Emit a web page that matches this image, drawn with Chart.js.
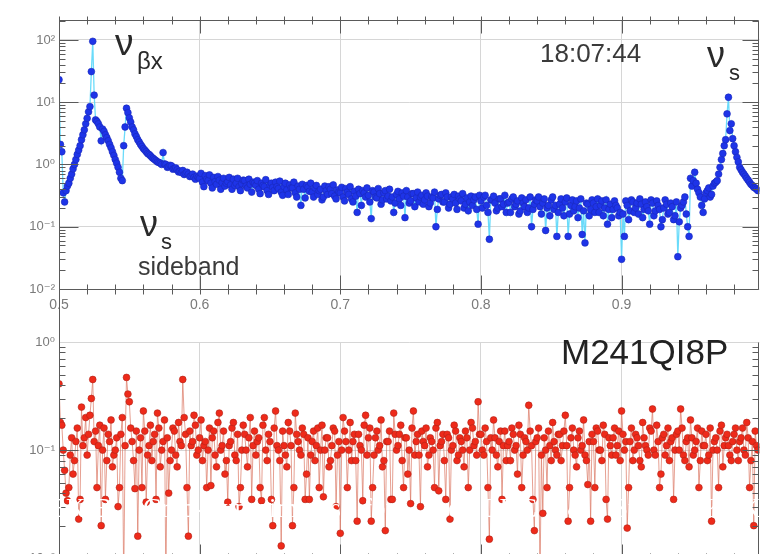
<!DOCTYPE html>
<html>
<head>
<meta charset="utf-8">
<script src="https://cdn.jsdelivr.net/npm/chart.js@4.4.1/dist/chart.umd.min.js"></script>
<style>
  html, body { margin: 0; padding: 0; background: #fff; overflow: hidden; }
  #wrap { position: relative; width: 764px; height: 554px; overflow: hidden; }
  canvas { position: absolute; left: 0; }
  #topChart { top: 0; }
  #botChart { top: 289px; }
  .lbl { position: absolute; white-space: nowrap; line-height: 1; font-family: "Liberation Sans", Arial, sans-serif; color: #2a2a2a; z-index: 2; }
  .banner { position: absolute; white-space: nowrap; line-height: 1; font-family: "Liberation Serif", "Times New Roman", serif; font-size: 27px; color: #fff; z-index: 3; top: 495px; }
</style>
</head>
<body>
<div id="wrap">
  <canvas id="topChart" width="764" height="320"></canvas>
  <canvas id="botChart" width="764" height="281"></canvas>

  <div class="lbl" style="left:115px;top:24px;font-size:37px;">ν</div>
  <div class="lbl" style="left:137px;top:49px;font-size:24px;">βx</div>
  <div class="lbl" style="left:540px;top:40px;font-size:26px;color:#3a3a3a;">18:07:44</div>
  <div class="lbl" style="left:707px;top:37px;font-size:36px;">ν</div>
  <div class="lbl" style="left:729px;top:62px;font-size:22px;">s</div>
  <div class="lbl" style="left:140px;top:206px;font-size:36px;">ν</div>
  <div class="lbl" style="left:161px;top:231px;font-size:22px;">s</div>
  <div class="lbl" style="left:138px;top:254px;font-size:25px;color:#3a3a3a;">sideband</div>
  <div class="lbl" style="left:561px;top:334px;font-size:35px;color:#222;">M241QI8P</div>

  <div class="banner" style="left:30px;">KEK-B</div>
  <div class="banner" style="left:143px;">Crab-Experiments</div>
  <div class="banner" style="left:363px;">for</div>
  <div class="banner" style="left:427px;">the</div>
  <div class="banner" style="left:483px;">LHC</div>
  <div class="banner" style="left:567px;">&amp;</div>
  <div class="banner" style="left:613px;">Super</div>
  <div class="banner" style="left:705px;">KEK-B</div>
</div>
<script>
// tune axis: FFT bins of width 0.001 starting at 0.5
// values are kept as even bins (0.500, 0.502, ...) and odd bins (0.501, 0.503, ...)
const tuneStart = 0.5;
const binWidth = 0.001;

// horizontal spectrum (top panel)
const horizEven = [
  23, 1.6, 0.25, 0.45, 0.6, 0.85, 1.2, 1.7, 2.5, 3.6,
  5.5, 8.5, 95, 5.2, 4.5, 2.4, 3.4, 2.7, 2.1, 1.6,
  1.2, 0.9, 0.6, 2.0, 8.0, 5.6, 4.0, 3.1, 2.5, 2.1,
  1.8, 1.6, 1.45, 1.3, 1.2, 1.1, 1.05, 1.55, 1.0, 0.92,
  0.95, 0.86, 0.82, 0.78, 0.8, 0.72, 0.7, 0.66, 0.62, 0.65,
  0.6, 0.52, 0.66, 0.55, 0.5, 0.62, 0.48, 0.56, 0.51, 0.45,
  0.53, 0.47, 0.58, 0.5, 0.44, 0.49, 0.55, 0.42, 0.48, 0.52,
  0.46, 0.4, 0.5, 0.44, 0.38, 0.47, 0.43, 0.52, 0.41, 0.36,
  0.44, 0.39, 0.47, 0.42, 0.35, 0.45, 0.22, 0.4, 0.46, 0.37,
  0.36, 0.42, 0.33, 0.4, 0.3, 0.38, 0.44, 0.34, 0.31, 0.39,
  0.35, 0.3, 0.41, 0.33, 0.28, 0.37, 0.17, 0.34, 0.38, 0.3,
  0.32, 0.135, 0.36, 0.29, 0.34, 0.27, 0.38, 0.31, 0.26, 0.17,
  0.33, 0.28, 0.35, 0.14, 0.3, 0.26, 0.34, 0.29, 0.25, 0.32,
  0.27, 0.31, 0.24, 0.29, 0.1, 0.28, 0.33, 0.25, 0.3, 0.23,
  0.28, 0.24, 0.31, 0.26, 0.2, 0.29, 0.25, 0.22, 0.3, 0.11,
  0.26, 0.3, 0.22, 0.063, 0.27, 0.24, 0.2, 0.28, 0.23, 0.17,
  0.25, 0.28, 0.21, 0.26, 0.18, 0.24, 0.27, 0.2, 0.1, 0.23,
  0.26, 0.21, 0.24, 0.087, 0.22, 0.27, 0.19, 0.07, 0.23, 0.2,
  0.25, 0.07, 0.22, 0.18, 0.26, 0.2, 0.075, 0.055, 0.23, 0.19,
  0.24, 0.21, 0.17, 0.26, 0.2, 0.11, 0.23, 0.19, 0.22, 0.15,
  0.03, 0.07, 0.22, 0.18, 0.25, 0.2, 0.16, 0.23, 0.19, 0.21,
  0.11, 0.24, 0.18, 0.22, 0.1, 0.2, 0.23, 0.17, 0.21, 0.15,
  0.033, 0.2, 0.25, 0.16, 0.07, 0.45, 0.75, 0.4, 0.3, 0.17,
  0.35, 0.42, 0.33, 0.5, 0.55, 0.9, 1.5, 2.5, 12, 4.5,
  2.0, 1.3, 0.9, 0.75, 0.65, 0.56, 0.48, 0.43, 0.4
];
const horizOdd = [
  2.1, 0.35, 0.38, 0.5, 0.7, 1.0, 1.45, 2.0, 3.0, 4.5,
  7, 31, 13, 4.9, 4.0, 3.7, 3.0, 2.4, 1.85, 1.4,
  1.05, 0.75, 0.55, 4.0, 6.8, 4.8, 3.6, 2.8, 2.3, 1.95,
  1.7, 1.5, 1.38, 1.25, 1.15, 1.08, 1.0, 1.02, 0.9, 0.97,
  0.84, 0.88, 0.76, 0.74, 0.69, 0.75, 0.64, 0.7, 0.58, 0.62,
  0.72, 0.44, 0.58, 0.68, 0.42, 0.53, 0.64, 0.4, 0.6, 0.5,
  0.62, 0.4, 0.46, 0.6, 0.38, 0.56, 0.45, 0.58, 0.36, 0.5,
  0.55, 0.34, 0.46, 0.57, 0.33, 0.5, 0.38, 0.44, 0.54, 0.32,
  0.5, 0.33, 0.42, 0.52, 0.3, 0.4, 0.48, 0.29, 0.43, 0.5,
  0.3, 0.46, 0.38, 0.27, 0.45, 0.33, 0.4, 0.47, 0.28, 0.36,
  0.43, 0.26, 0.36, 0.44, 0.25, 0.31, 0.4, 0.22, 0.35, 0.42,
  0.25, 0.38, 0.3, 0.41, 0.23, 0.35, 0.28, 0.4, 0.3, 0.24,
  0.37, 0.22, 0.31, 0.38, 0.24, 0.34, 0.21, 0.36, 0.3, 0.23,
  0.35, 0.21, 0.3, 0.36, 0.19, 0.32, 0.25, 0.35, 0.2, 0.3,
  0.33, 0.19, 0.28, 0.34, 0.23, 0.18, 0.31, 0.27, 0.19, 0.32,
  0.2, 0.32, 0.17, 0.27, 0.31, 0.18, 0.28, 0.21, 0.32, 0.24,
  0.17, 0.3, 0.23, 0.16, 0.29, 0.21, 0.17, 0.3, 0.19, 0.27,
  0.3, 0.16, 0.28, 0.2, 0.15, 0.3, 0.22, 0.17, 0.28, 0.15,
  0.29, 0.16, 0.27, 0.21, 0.14, 0.28, 0.18, 0.24, 0.15, 0.27,
  0.17, 0.28, 0.22, 0.15, 0.27, 0.19, 0.14, 0.26, 0.2, 0.17,
  0.16, 0.26, 0.13, 0.27, 0.17, 0.24, 0.28, 0.14, 0.25, 0.18,
  0.27, 0.15, 0.26, 0.19, 0.13, 0.27, 0.16, 0.24, 0.13, 0.25,
  0.12, 0.22, 0.3, 0.1, 0.6, 0.55, 0.5, 0.35, 0.22, 0.28,
  0.38, 0.3, 0.45, 0.52, 0.7, 1.2, 2.0, 6.5, 3.5, 2.6,
  1.6, 1.1, 0.82, 0.7, 0.6, 0.52, 0.46, 0.42, 0.38
];

// M241QI8P spectrum (bottom panel)
const vertEven = [
  0.41, 0.17, 0.065, 0.034, 0.09, 0.06, 0.12, 0.023, 0.25, 0.13,
  0.09, 0.21, 0.45, 0.15, 0.11, 0.02, 0.16, 0.08, 0.12, 0.07,
  0.1, 0.03, 0.14, 0.006, 0.47, 0.28, 0.12, 0.044, 0.016, 0.13,
  0.23, 0.033, 0.11, 0.08, 0.14, 0.22, 0.07, 0.12, 0.006, 0.04,
  0.1, 0.15, 0.07, 0.12, 0.45, 0.14, 0.016, 0.11, 0.21, 0.09,
  0.13, 0.08, 0.12, 0.1, 0.047, 0.15, 0.07, 0.22, 0.11, 0.06,
  0.033, 0.12, 0.18, 0.08, 0.03, 0.1, 0.14, 0.07, 0.2, 0.11,
  0.09, 0.13, 0.034, 0.2, 0.08, 0.12, 0.02, 0.23, 0.1, 0.013,
  0.11, 0.07, 0.15, 0.02, 0.22, 0.12, 0.09, 0.14, 0.06, 0.035,
  0.12, 0.08, 0.16, 0.1, 0.037, 0.13, 0.07, 0.11, 0.15, 0.09,
  0.017, 0.2, 0.12, 0.1, 0.08, 0.14, 0.022, 0.11, 0.034, 0.21,
  0.13, 0.022, 0.09, 0.15, 0.11, 0.07, 0.018, 0.12, 0.035, 0.22,
  0.1, 0.14, 0.08, 0.13, 0.06, 0.032, 0.23, 0.12, 0.09, 0.15,
  0.11, 0.07, 0.13, 0.1, 0.16, 0.042, 0.12, 0.08, 0.14, 0.023,
  0.11, 0.15, 0.09, 0.12, 0.07, 0.13, 0.1, 0.16, 0.12, 0.28,
  0.14, 0.09, 0.12, 0.015, 0.1, 0.13, 0.07, 0.15, 0.11, 0.08,
  0.12, 0.16, 0.1, 0.06, 0.14, 0.09, 0.12, 0.26, 0.11, 0.018,
  0.13, 0.006, 0.026, 0.1, 0.15, 0.08, 0.12, 0.09, 0.14, 0.11,
  0.21, 0.022, 0.13, 0.1, 0.07, 0.15, 0.11, 0.09, 0.048, 0.022,
  0.12, 0.16, 0.1, 0.08, 0.14, 0.023, 0.11, 0.13, 0.09, 0.15,
  0.23, 0.1, 0.019, 0.12, 0.08, 0.14, 0.11, 0.07, 0.13, 0.1,
  0.16, 0.24, 0.09, 0.12, 0.06, 0.14, 0.11, 0.08, 0.13, 0.1,
  0.15, 0.24, 0.09, 0.12, 0.07, 0.13, 0.1, 0.16, 0.08, 0.11,
  0.14, 0.09, 0.022, 0.12, 0.1, 0.15, 0.07, 0.13, 0.11, 0.08,
  0.14, 0.1, 0.12, 0.16, 0.09, 0.13, 0.08, 0.02, 0.11
];
const vertOdd = [
  0.18, 0.1, 0.04, 0.045, 0.13, 0.08, 0.16, 0.035, 0.11, 0.2,
  0.14, 0.3, 0.12, 0.045, 0.17, 0.1, 0.035, 0.14, 0.19, 0.09,
  0.13, 0.045, 0.2, 0.11, 0.33, 0.16, 0.08, 0.15, 0.1, 0.045,
  0.15, 0.09, 0.17, 0.12, 0.035, 0.16, 0.1, 0.19, 0.13, 0.08,
  0.16, 0.09, 0.18, 0.11, 0.2, 0.045, 0.15, 0.12, 0.17, 0.1,
  0.19, 0.11, 0.045, 0.16, 0.13, 0.09, 0.18, 0.1, 0.15, 0.08,
  0.11, 0.16, 0.09, 0.14, 0.045, 0.17, 0.1, 0.13, 0.035, 0.15,
  0.12, 0.045, 0.17, 0.1, 0.14, 0.035, 0.16, 0.11, 0.08, 0.15,
  0.09, 0.18, 0.11, 0.045, 0.14, 0.1, 0.16, 0.035, 0.13, 0.09,
  0.15, 0.11, 0.045, 0.17, 0.1, 0.13, 0.08, 0.16, 0.03, 0.12,
  0.1, 0.15, 0.045, 0.18, 0.12, 0.08, 0.14, 0.1, 0.17, 0.09,
  0.16, 0.045, 0.13, 0.1, 0.19, 0.08, 0.12, 0.15, 0.035, 0.14,
  0.11, 0.17, 0.045, 0.13, 0.1, 0.16, 0.09, 0.14, 0.03, 0.12,
  0.16, 0.09, 0.12, 0.045, 0.18, 0.11, 0.14, 0.035, 0.13, 0.1,
  0.17, 0.08, 0.13, 0.1, 0.15, 0.045, 0.18, 0.11, 0.09, 0.14,
  0.1, 0.16, 0.045, 0.13, 0.19, 0.09, 0.12, 0.035, 0.15, 0.11,
  0.08, 0.14, 0.11, 0.17, 0.045, 0.13, 0.1, 0.15, 0.035, 0.12,
  0.16, 0.09, 0.13, 0.045, 0.11, 0.18, 0.1, 0.14, 0.08, 0.15,
  0.11, 0.045, 0.16, 0.09, 0.13, 0.1, 0.19, 0.08, 0.12, 0.14,
  0.045, 0.15, 0.1, 0.17, 0.035, 0.13, 0.09, 0.16, 0.11, 0.08,
  0.14, 0.12, 0.045, 0.16, 0.1, 0.13, 0.08, 0.18, 0.11, 0.09,
  0.15, 0.1, 0.17, 0.045, 0.13, 0.09, 0.16, 0.12, 0.035, 0.14,
  0.1, 0.16, 0.08, 0.13, 0.19, 0.09, 0.12, 0.045, 0.15, 0.11,
  0.08, 0.16, 0.1, 0.13, 0.045, 0.17, 0.11, 0.14, 0.09, 0.12,
  0.16, 0.08, 0.13, 0.1, 0.18, 0.045, 0.12, 0.15, 0.1
];

const xTicks = [0.5, 0.6, 0.7, 0.8, 0.9];
const xTickLabels = ['0.5', '0.6', '0.7', '0.8', '0.9'];
const topDecades = [0.01, 0.1, 1, 10, 100];
const topDecadeLabels = ['10⁻²', '10⁻¹', '10⁰', '10¹', '10²'];
const botDecades = [0.01, 0.1, 1];
const botDecadeLabels = ['10⁻²', '10⁻¹', '10⁰'];

// interleave even and odd bins into one ordered spectrum
function toPoints(even, odd) {
  const pts = [];
  for (let i = 0; i < even.length; i++) {
    pts.push({ x: tuneStart + 2 * i * binWidth, y: even[i] });
    if (i < odd.length) pts.push({ x: tuneStart + (2 * i + 1) * binWidth, y: odd[i] });
  }
  return pts;
}

const labelFont = { family: '"Liberation Sans", "DejaVu Sans", sans-serif', size: 13 };

// axis frame with minor ticks (MATLAB-ish look)
function frameTicks(drawTop, leftFrom) {
  return {
    id: 'frameTicks',
    afterDraw(chart) {
      const { ctx, chartArea: a, scales: { x, y } } = chart;
      const L = Math.round(a.left) + 0.5, R = Math.round(a.right) - 0.5;
      const T = Math.round(a.top) + 0.5, B = Math.round(a.bottom) + 0.5;
      ctx.save();
      ctx.strokeStyle = '#5a5a5a';
      ctx.lineWidth = 1;
      ctx.beginPath();
      ctx.moveTo(L, leftFrom === null ? T : leftFrom); ctx.lineTo(L, B);
      ctx.moveTo(L, B); ctx.lineTo(R, B);
      if (drawTop) { ctx.moveTo(L, T); ctx.lineTo(R, T); }
      ctx.moveTo(R, T); ctx.lineTo(R, B);
      // x ticks every 0.02
      for (let k = 25; k <= 49; k++) {
        const px = Math.round(x.getPixelForValue(k / 50)) + 0.5;
        const major = k % 5 === 0;
        ctx.moveTo(px, B - (major ? 14 : 5)); ctx.lineTo(px, B + 5);
        if (drawTop) { ctx.moveTo(px, T - 4); ctx.lineTo(px, T + (major ? 13 : 4)); }
      }
      // log y ticks
      const dMin = Math.floor(Math.log10(y.min)), dMax = Math.ceil(Math.log10(y.max));
      for (let d = dMin; d < dMax; d++) {
        for (let m = 1; m <= 9; m++) {
          const v = m * Math.pow(10, d);
          if (v < y.min * 0.999 || v > y.max) continue;
          const py = Math.round(y.getPixelForValue(v)) + 0.5;
          const major = m === 1;
          ctx.moveTo(L, py); ctx.lineTo(L + (major ? 19 : 6), py);
          ctx.moveTo(R, py); ctx.lineTo(R - (major ? 16 : 6), py);
        }
      }
      ctx.stroke();
      ctx.restore();
    }
  };
}

function makeChart(id, points, cfg) {
  return new Chart(document.getElementById(id), {
    type: 'scatter',
    data: {
      datasets: [{
        data: points,
        showLine: true,
        borderColor: cfg.lineColor,
        borderWidth: cfg.lineWidth,
        pointRadius: cfg.radius,
        pointBackgroundColor: cfg.dotColor,
        pointBorderColor: cfg.dotEdge,
        pointBorderWidth: 0.6
      }]
    },
    options: {
      responsive: false,
      animation: false,
      events: [],
      layout: { padding: cfg.padding },
      plugins: { legend: { display: false }, tooltip: { enabled: false } },
      scales: {
        x: {
          type: 'linear',
          min: 0.5,
          max: 0.998,
          afterBuildTicks: s => { s.ticks = xTicks.map(v => ({ value: v })); },
          afterFit: s => { s.height = cfg.xHeight; },
          grid: { color: '#d6d6d6', drawTicks: false },
          border: { display: false },
          ticks: {
            display: cfg.xLabels,
            padding: 8,
            color: '#7a7a7a',
            font: { family: labelFont.family, size: 14 },
            callback: v => xTickLabels[xTicks.indexOf(v)]
          }
        },
        y: {
          type: 'logarithmic',
          min: cfg.yMin,
          max: cfg.yMax,
          afterBuildTicks: s => { s.ticks = cfg.decades.map(v => ({ value: v })); },
          afterFit: s => { s.width = 59; },
          grid: { color: '#d6d6d6', drawTicks: false },
          border: { display: false },
          ticks: {
            padding: 4,
            color: '#7a7a7a',
            font: labelFont,
            callback: v => cfg.decadeLabels[cfg.decades.indexOf(v)]
          }
        }
      }
    },
    plugins: [frameTicks(cfg.drawTop, cfg.leftFrom)]
  });
}

makeChart('topChart', toPoints(horizEven, horizOdd), {
  lineColor: 'rgba(90, 215, 250, 0.9)',
  lineWidth: 1.3,
  radius: 3.4,
  dotColor: '#1e34e8',
  dotEdge: '#1a28b8',
  padding: { top: 20, right: 2, left: 0, bottom: 0 },
  xHeight: 31,
  xLabels: true,
  yMin: 0.01,
  yMax: 209,
  decades: topDecades,
  decadeLabels: topDecadeLabels,
  drawTop: true,
  leftFrom: null
});

makeChart('botChart', toPoints(vertEven, vertOdd), {
  lineColor: 'rgba(220, 120, 100, 0.7)',
  lineWidth: 1,
  radius: 3.4,
  dotColor: '#ee2a1a',
  dotEdge: '#b02418',
  padding: { top: 53, right: 2, left: 0, bottom: 10 },
  xHeight: 0,
  xLabels: false,
  yMin: 0.01,
  yMax: 1,
  decades: botDecades,
  decadeLabels: botDecadeLabels,
  drawTop: false,
  leftFrom: 0
});
</script>
</body>
</html>
